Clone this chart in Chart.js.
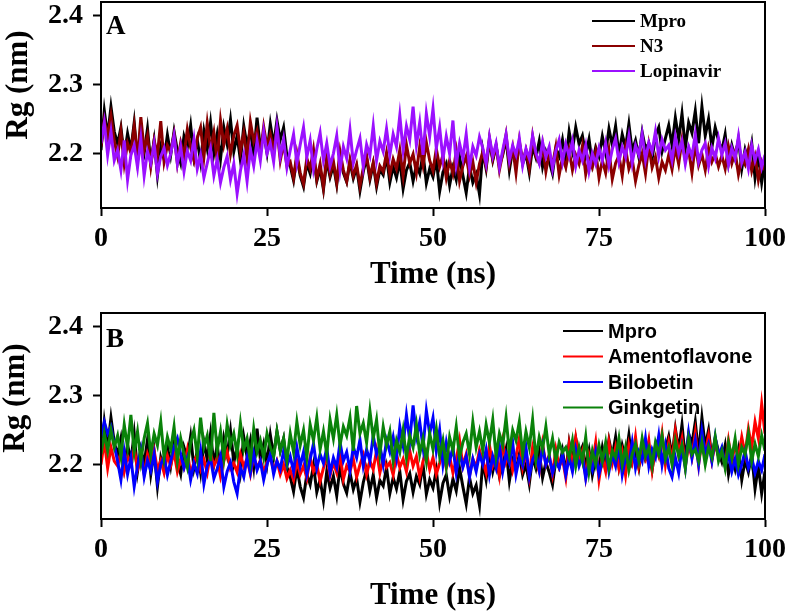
<!DOCTYPE html>
<html>
<head>
<meta charset="utf-8">
<script src="https://cdn.jsdelivr.net/npm/chart.js@4.4.0/dist/chart.umd.min.js"></script>
<style>
  body { margin: 0; background: #fff; }
  .panel { position: absolute; left: 0; width: 788px; }
  #panelA { top: 0; height: 300px; }
  #panelB { top: 300px; height: 315px; }
</style>
</head>
<body>
<div class="panel" id="panelA"><canvas id="chartA"></canvas></div>
<div class="panel" id="panelB"><canvas id="chartB"></canvas></div>
<script>
// time axis: 0 .. 100 ns, one frame every 0.5 ns
const time = Array.from({ length: 201 }, (_, i) => i * 0.5);
const xTicks = [0, 25, 50, 75, 100];
const yTicks = [2.2, 2.3, 2.4];

// Rg (nm)
const mpro = [
  2.205, 2.262, 2.225, 2.268, 2.232,
  2.214, 2.238, 2.196, 2.229, 2.205, 2.245, 2.19, 2.222, 2.201, 2.236, 2.186, 2.219, 2.168, 2.21, 2.192, 2.227,
  2.198, 2.232, 2.204, 2.186, 2.225, 2.209, 2.241, 2.195, 2.22, 2.188, 2.233, 2.207, 2.245, 2.2, 2.228, 2.192, 2.238, 2.214, 2.249, 2.203, 2.226, 2.19, 2.24, 2.211, 2.235, 2.197, 2.252, 2.208, 2.23, 2.201,
  2.243, 2.212, 2.248, 2.22, 2.238, 2.196,
  2.182, 2.161, 2.195, 2.168, 2.152, 2.186, 2.171, 2.199, 2.16, 2.178, 2.148, 2.19, 2.166, 2.183, 2.155, 2.197, 2.172, 2.159, 2.188, 2.164, 2.18, 2.146, 2.174, 2.193, 2.162, 2.185, 2.152, 2.177, 2.169, 2.196,
  2.158, 2.181, 2.165, 2.19, 2.149, 2.176, 2.187, 2.16, 2.183, 2.171, 2.2, 2.157, 2.178, 2.166, 2.192, 2.145, 2.173, 2.185, 2.154, 2.179, 2.162, 2.195, 2.168, 2.143, 2.181, 2.158, 2.17, 2.141,
  2.205, 2.178, 2.219, 2.19, 2.211, 2.183, 2.198, 2.222, 2.176, 2.206, 2.192, 2.215, 2.185, 2.2, 2.172, 2.21, 2.194, 2.218, 2.181, 2.203, 2.189, 2.171, 2.207, 2.196, 2.22, 2.188,
  2.232, 2.205, 2.238, 2.214, 2.226, 2.198, 2.221, 2.185, 2.209, 2.196,
  2.225, 2.201, 2.236, 2.212, 2.24, 2.198, 2.228, 2.209, 2.243, 2.204, 2.219, 2.195, 2.231, 2.207, 2.215, 2.192, 2.226, 2.238, 2.203, 2.222,
  2.241, 2.212, 2.252, 2.221, 2.258, 2.208, 2.245, 2.23, 2.262, 2.215, 2.268, 2.226, 2.25, 2.209, 2.238, 2.219,
  2.204, 2.228, 2.186, 2.212, 2.193, 2.221, 2.178, 2.206, 2.189, 2.215, 2.165, 2.198, 2.158, 2.19
];
const n3 = [
  2.21, 2.248, 2.225, 2.255, 2.218,
  2.196, 2.232, 2.185, 2.215, 2.201, 2.24, 2.192, 2.253, 2.205, 2.226, 2.182, 2.219, 2.198, 2.247, 2.188, 2.212,
  2.203, 2.228, 2.186, 2.216, 2.197, 2.235, 2.209, 2.19, 2.222, 2.238, 2.195, 2.244, 2.206, 2.231, 2.19, 2.248, 2.213, 2.236, 2.199, 2.226, 2.241, 2.204, 2.23, 2.192, 2.246, 2.218, 2.233, 2.2, 2.239, 2.21,
  2.228, 2.205, 2.236, 2.19, 2.215, 2.182,
  2.188, 2.165, 2.2, 2.172, 2.156, 2.193, 2.178, 2.206, 2.163, 2.185, 2.151, 2.196, 2.17, 2.189, 2.158, 2.203, 2.176, 2.16, 2.191, 2.168, 2.184, 2.153, 2.179, 2.197, 2.166, 2.187, 2.157, 2.182, 2.174, 2.201,
  2.17, 2.192, 2.178, 2.205, 2.168, 2.213, 2.186, 2.199, 2.172, 2.21, 2.183, 2.216, 2.19, 2.175, 2.207, 2.181, 2.198, 2.165, 2.19, 2.171, 2.203, 2.16, 2.182, 2.196, 2.168, 2.188, 2.158, 2.185,
  2.203, 2.181, 2.222, 2.192, 2.212, 2.176, 2.2, 2.227, 2.185, 2.209, 2.172, 2.218, 2.19, 2.205, 2.179, 2.225, 2.196, 2.186, 2.213, 2.174, 2.201, 2.183, 2.21, 2.169, 2.194, 2.18,
  2.205, 2.176, 2.198, 2.185, 2.211, 2.17, 2.192, 2.18, 2.203, 2.165,
  2.19, 2.172, 2.205, 2.163, 2.186, 2.197, 2.168, 2.208, 2.178, 2.192, 2.16, 2.183, 2.2, 2.171, 2.212, 2.18, 2.195, 2.165, 2.188, 2.176,
  2.198, 2.177, 2.209, 2.185, 2.22, 2.19, 2.205, 2.172, 2.213, 2.183, 2.199, 2.176, 2.208, 2.188, 2.2, 2.181,
  2.197, 2.178, 2.21, 2.186, 2.202, 2.17, 2.193, 2.184, 2.206, 2.175, 2.195, 2.162, 2.188, 2.176
];
const lopinavir = [
  2.215, 2.245, 2.198, 2.232, 2.19,
  2.205, 2.176, 2.219, 2.162, 2.198, 2.212, 2.18, 2.222, 2.168, 2.203, 2.186, 2.214, 2.171, 2.196, 2.208, 2.183,
  2.2, 2.226, 2.185, 2.21, 2.174, 2.204, 2.19, 2.221, 2.178, 2.198, 2.165, 2.186, 2.207, 2.168, 2.192, 2.158, 2.18, 2.196, 2.162, 2.185, 2.142, 2.175, 2.198, 2.16, 2.206, 2.182, 2.218, 2.19, 2.232, 2.2,
  2.215, 2.188, 2.238, 2.196, 2.221, 2.18,
  2.205, 2.228, 2.186, 2.213, 2.238, 2.195, 2.219, 2.178, 2.207, 2.23, 2.19, 2.215, 2.182, 2.2, 2.226, 2.176, 2.21, 2.193, 2.234, 2.186, 2.205, 2.222, 2.181, 2.213, 2.197, 2.24, 2.19, 2.218, 2.203, 2.236,
  2.198, 2.228, 2.21, 2.255, 2.205, 2.24, 2.22, 2.268, 2.212, 2.245, 2.198, 2.258, 2.225, 2.265, 2.208, 2.238, 2.192, 2.225, 2.2, 2.248, 2.185, 2.215, 2.193, 2.228, 2.18, 2.21, 2.197, 2.224,
  2.208, 2.185, 2.224, 2.196, 2.215, 2.18, 2.205, 2.228, 2.19, 2.212, 2.198, 2.222, 2.183, 2.207, 2.193, 2.226, 2.201, 2.186, 2.217, 2.195, 2.21, 2.178, 2.204, 2.22, 2.188, 2.214,
  2.196, 2.218, 2.182, 2.205, 2.19, 2.212, 2.175, 2.2, 2.185, 2.208,
  2.19, 2.215, 2.183, 2.206, 2.222, 2.188, 2.21, 2.195, 2.225, 2.186, 2.212, 2.198, 2.228, 2.191, 2.216, 2.203, 2.232, 2.196, 2.22, 2.205,
  2.212, 2.19, 2.225, 2.2, 2.218, 2.185, 2.21, 2.196, 2.228, 2.188, 2.205, 2.215, 2.182, 2.208, 2.193, 2.222,
  2.198, 2.215, 2.184, 2.208, 2.193, 2.225, 2.187, 2.202, 2.178, 2.212, 2.19, 2.206, 2.18, 2.198
];
const amentoflavone = [
  2.2, 2.235, 2.195, 2.225, 2.205,
  2.198, 2.218, 2.19, 2.212, 2.202, 2.224, 2.193, 2.209, 2.186, 2.215, 2.2, 2.22, 2.192, 2.206, 2.188, 2.213,
  2.199, 2.218, 2.19, 2.208, 2.196, 2.221, 2.185, 2.204, 2.214, 2.193, 2.207, 2.188, 2.216, 2.198, 2.21, 2.183, 2.205, 2.219, 2.194, 2.202, 2.189, 2.215, 2.197, 2.209, 2.186, 2.212, 2.195, 2.206, 2.19, 2.203,
  2.21, 2.192, 2.205, 2.186, 2.2, 2.18,
  2.192, 2.178, 2.205, 2.186, 2.198, 2.18, 2.21, 2.19, 2.2, 2.176, 2.195, 2.212, 2.184, 2.203, 2.188, 2.215, 2.179, 2.198, 2.19, 2.208, 2.182, 2.2, 2.214, 2.186, 2.205, 2.193, 2.22, 2.188, 2.21, 2.196,
  2.203, 2.185, 2.215, 2.196, 2.208, 2.19, 2.22, 2.198, 2.212, 2.182, 2.205, 2.218, 2.193, 2.21, 2.186, 2.202, 2.222, 2.195, 2.212, 2.188, 2.207, 2.235, 2.198, 2.215, 2.184, 2.208, 2.196, 2.221,
  2.205, 2.188, 2.228, 2.199, 2.215, 2.185, 2.232, 2.204, 2.22, 2.192, 2.212, 2.238, 2.196, 2.218, 2.183, 2.225, 2.205, 2.19, 2.23, 2.2, 2.214, 2.186, 2.222, 2.197, 2.209, 2.181,
  2.228, 2.196, 2.238, 2.205, 2.22, 2.182, 2.215, 2.2, 2.232, 2.178,
  2.21, 2.19, 2.232, 2.202, 2.225, 2.195, 2.218, 2.185, 2.228, 2.205, 2.24, 2.198, 2.22, 2.208, 2.235, 2.192, 2.226, 2.212, 2.245, 2.2,
  2.232, 2.205, 2.248, 2.215, 2.238, 2.198, 2.228, 2.21, 2.246, 2.2, 2.235, 2.218, 2.242, 2.206, 2.23, 2.212,
  2.222, 2.198, 2.235, 2.205, 2.228, 2.21, 2.24, 2.215, 2.252, 2.225, 2.262, 2.238, 2.288, 2.245
];
const bilobetin = [
  2.24, 2.262, 2.245, 2.255, 2.228,
  2.205, 2.178, 2.219, 2.186, 2.21, 2.168, 2.198, 2.222, 2.182, 2.206, 2.191, 2.215, 2.175, 2.2, 2.212, 2.185,
  2.205, 2.226, 2.238, 2.215, 2.195, 2.21, 2.178, 2.202, 2.187, 2.22, 2.172, 2.198, 2.209, 2.18, 2.194, 2.212, 2.168, 2.19, 2.203, 2.175, 2.158, 2.196, 2.182, 2.21, 2.188, 2.216, 2.192, 2.205, 2.178, 2.2,
  2.215, 2.186, 2.205, 2.193, 2.22, 2.198,
  2.212, 2.19, 2.225, 2.198, 2.218, 2.186, 2.208, 2.23, 2.195, 2.215, 2.202, 2.224, 2.188, 2.21, 2.196, 2.232, 2.205, 2.218, 2.192, 2.226, 2.21, 2.236, 2.198, 2.222, 2.205, 2.242, 2.215, 2.228, 2.2, 2.235,
  2.218, 2.24, 2.21, 2.255, 2.228, 2.272, 2.235, 2.286, 2.24, 2.262, 2.225, 2.278, 2.245, 2.268, 2.22, 2.25, 2.2, 2.232, 2.205, 2.225, 2.188, 2.218, 2.196, 2.212, 2.182, 2.208, 2.19, 2.215,
  2.2, 2.222, 2.185, 2.212, 2.195, 2.228, 2.19, 2.216, 2.202, 2.232, 2.186, 2.21, 2.198, 2.225, 2.183, 2.207, 2.218, 2.192, 2.226, 2.2, 2.212, 2.188, 2.205, 2.195, 2.215, 2.185,
  2.21, 2.19, 2.222, 2.198, 2.212, 2.18, 2.205, 2.192, 2.218, 2.186,
  2.205, 2.225, 2.19, 2.215, 2.198, 2.228, 2.185, 2.21, 2.2, 2.232, 2.195, 2.218, 2.205, 2.238, 2.198, 2.222, 2.21, 2.242, 2.2, 2.228,
  2.195, 2.182, 2.21, 2.188, 2.225, 2.195, 2.245, 2.21, 2.235, 2.2, 2.248, 2.215, 2.23, 2.205, 2.24, 2.212,
  2.225, 2.198, 2.215, 2.19, 2.208, 2.185, 2.2, 2.22, 2.195, 2.21, 2.188, 2.205, 2.192, 2.215
];
const ginkgetin = [
  2.215, 2.245, 2.22, 2.25, 2.225,
  2.242, 2.212, 2.258, 2.225, 2.272, 2.218, 2.248, 2.205, 2.238, 2.26, 2.215, 2.245, 2.228, 2.262, 2.21, 2.24,
  2.222, 2.255, 2.205, 2.238, 2.215, 2.196, 2.232, 2.25, 2.212, 2.268, 2.225, 2.242, 2.205, 2.275, 2.22, 2.248, 2.21, 2.258, 2.228, 2.245, 2.215, 2.26, 2.222, 2.238, 2.205, 2.252, 2.218, 2.235, 2.21, 2.245,
  2.225, 2.212, 2.248, 2.22, 2.238, 2.205,
  2.245, 2.218, 2.262, 2.228, 2.25, 2.21, 2.258, 2.235, 2.268, 2.222, 2.248, 2.215, 2.265, 2.238, 2.272, 2.228, 2.255, 2.242, 2.268, 2.22, 2.285, 2.245, 2.26, 2.232, 2.278, 2.238, 2.265, 2.215, 2.255, 2.228,
  2.248, 2.205, 2.235, 2.218, 2.25, 2.21, 2.242, 2.225, 2.258, 2.215, 2.238, 2.205, 2.245, 2.222, 2.252, 2.212, 2.235, 2.198, 2.24, 2.22, 2.255, 2.21, 2.232, 2.245, 2.215, 2.262, 2.225, 2.248,
  2.22, 2.258, 2.232, 2.265, 2.212, 2.245, 2.228, 2.268, 2.218, 2.25, 2.235, 2.262, 2.215, 2.248, 2.225, 2.265, 2.208, 2.24, 2.222, 2.255, 2.215, 2.238, 2.205, 2.232, 2.218, 2.225,
  2.21, 2.235, 2.198, 2.225, 2.205, 2.24, 2.19, 2.22, 2.2, 2.228,
  2.205, 2.232, 2.195, 2.22, 2.21, 2.238, 2.2, 2.225, 2.192, 2.215, 2.23, 2.205, 2.238, 2.212, 2.225, 2.198, 2.232, 2.215, 2.242, 2.208,
  2.225, 2.2, 2.235, 2.212, 2.228, 2.195, 2.238, 2.215, 2.222, 2.205, 2.232, 2.2, 2.225, 2.21, 2.24, 2.205,
  2.22, 2.195, 2.232, 2.21, 2.238, 2.2, 2.225, 2.215, 2.245, 2.205, 2.23, 2.212, 2.242, 2.22
];

const SERIF = '"Liberation Serif", "Times New Roman", serif';
const SANS = '"Liberation Sans", Arial, sans-serif';

// frame, panel letter, axis titles and the in-plot legend
const decor = {
  id: 'decor',
  afterDraw(chart, args, o) {
    const { ctx, chartArea: a } = chart;
    ctx.save();
    ctx.strokeStyle = '#000';
    ctx.lineWidth = 2;
    ctx.strokeRect(a.left, a.top, a.right - a.left, a.bottom - a.top);

    ctx.fillStyle = '#000';
    ctx.textBaseline = 'alphabetic';
    ctx.font = 'bold 27px ' + SERIF;
    ctx.textAlign = 'left';
    ctx.fillText(o.letter, a.left + 5, o.letterY);

    ctx.font = 'bold 31px ' + SERIF;
    ctx.textAlign = 'center';
    ctx.fillText('Time (ns)', (a.left + a.right) / 2, a.bottom + o.xTitleY);

    ctx.save();
    ctx.translate(o.yTitleX, o.yTitleMid);
    ctx.rotate(-Math.PI / 2);
    ctx.textBaseline = 'middle';
    ctx.fillText('Rg (nm)', 0, 0);
    ctx.restore();

    ctx.font = o.legendFont;
    ctx.textAlign = 'left';
    ctx.textBaseline = 'middle';
    chart.data.datasets.forEach((ds, i) => {
      const y = o.legendTop + i * o.legendGap;
      ctx.strokeStyle = ds.borderColor;
      ctx.lineWidth = 2;
      ctx.beginPath();
      ctx.moveTo(o.legendX, y);
      ctx.lineTo(o.legendX + o.legendLen, y);
      ctx.stroke();
      ctx.fillStyle = '#000';
      ctx.fillText(ds.label, o.legendX + o.legendLen + 5, y + 1);
    });
    ctx.restore();
  }
};

function line(label, values, color, order) {
  return {
    label,
    data: values.map((v, i) => ({ x: time[i], y: v })),
    borderColor: color,
    borderWidth: 3,
    pointRadius: 0,
    tension: 0,
    order
  };
}

function makeChart(id, datasets, top, bottomPad, decorOpts) {
  return new Chart(document.getElementById(id), {
    type: 'line',
    data: { datasets },
    options: {
      responsive: true,
      maintainAspectRatio: false,
      animation: false,
      events: [],
      layout: { padding: { left: 0, right: 23, top: top, bottom: 0 } },
      scales: {
        x: {
          type: 'linear',
          min: 0,
          max: 100,
          afterBuildTicks: s => { s.ticks = xTicks.map(v => ({ value: v })); },
          afterFit: s => { s.height = bottomPad; s.paddingLeft = 0; s.paddingRight = 0; },
          grid: { drawOnChartArea: false, drawTicks: true, tickLength: 8, tickWidth: 2, tickColor: '#000' },
          border: { display: true, color: '#000', width: 2 },
          ticks: { color: '#000', padding: 6, maxRotation: 0, font: { family: SERIF, size: 28, weight: 'bold' } }
        },
        y: {
          min: 2.121,
          max: 2.42,
          afterBuildTicks: s => { s.ticks = yTicks.map(v => ({ value: v })); },
          afterFit: s => { s.width = 101; s.paddingTop = 0; s.paddingBottom = 0; },
          grid: { drawOnChartArea: false, drawTicks: true, tickLength: 8, tickWidth: 2, tickColor: '#000' },
          border: { display: true, color: '#000', width: 2 },
          ticks: { color: '#000', padding: 10, font: { family: SERIF, size: 28, weight: 'bold' },
                   callback: v => v.toFixed(1) }
        }
      },
      plugins: {
        legend: { display: false },
        tooltip: { enabled: false },
        decor: decorOpts
      }
    },
    plugins: [decor]
  });
}

makeChart('chartA', [
  line('Mpro', mpro, '#000000', 3),
  line('N3', n3, '#8b0000', 2),
  line('Lopinavir', lopinavir, '#9b10ff', 1)
], 2, 92, {
  letter: 'A', letterY: 34, xTitleY: 75, yTitleX: 19, yTitleMid: 85,
  legendFont: 'bold 19px ' + SERIF, legendX: 592, legendLen: 43, legendTop: 21, legendGap: 25
});

makeChart('chartB', [
  line('Mpro', mpro, '#000000', 4),
  line('Amentoflavone', amentoflavone, '#ff0000', 3),
  line('Bilobetin', bilobetin, '#0000ff', 2),
  line('Ginkgetin', ginkgetin, '#0a820a', 1)
], 13, 96, {
  letter: 'B', letterY: 47, xTitleY: 85, yTitleX: 16, yTitleMid: 98,
  legendFont: 'bold 20px ' + SANS, legendX: 563, legendLen: 40, legendTop: 31, legendGap: 25.5
});
</script>
</body>
</html>
